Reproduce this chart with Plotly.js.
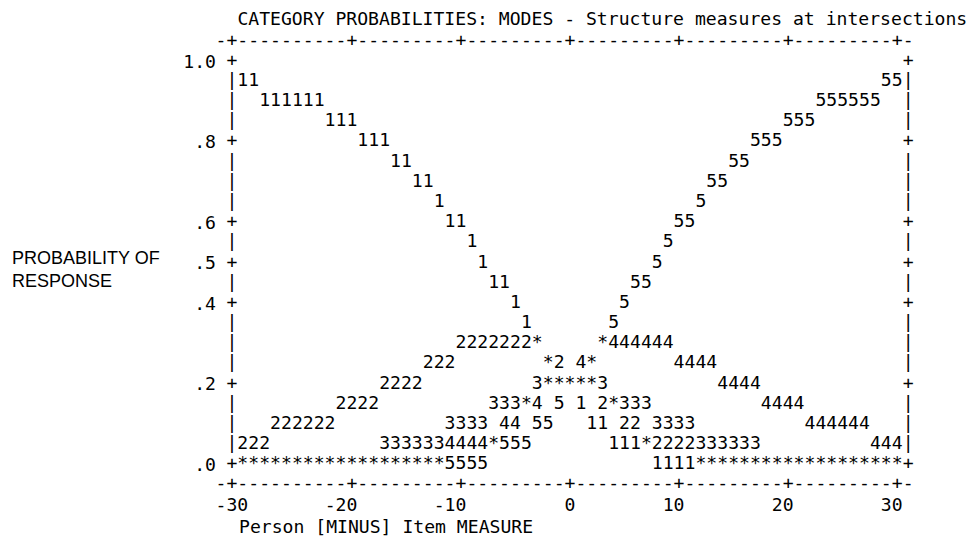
<!DOCTYPE html>
<html>
<head>
<meta charset="utf-8">
<script src="https://cdn.plot.ly/plotly-3.0.1.min.js"></script>
<style>html,body{margin:0;padding:0;background:#fff;}#chart{width:971px;height:542px;}</style>
</head>
<body>
<div id="chart"></div>
<script>
// ---- Data (measure, probability) for each category glyph ----
const categories = ['1', '2', '3', '4', '5'];

const cat1X = [-30,-29,-28,-27,-26,-25,-24,-23,-22,-21,-20,-19,-18,-17,-16,-15,-14,-13,-12,-11,-10,-9,-8,-7,-6,-5,-4,1,2,3,4,5,6,8,9,10,11];
const cat1Y = [0.95,0.95,0.90,0.90,0.90,0.90,0.90,0.90,0.85,0.85,0.85,0.80,0.80,0.80,0.75,0.75,0.70,0.70,0.65,0.60,0.60,0.55,0.50,0.45,0.45,0.40,0.35,0.15,0.10,0.10,0.05,0.05,0.05,0,0,0,0];

const cat2X = [-30,-29,-28,-27,-26,-25,-24,-23,-22,-21,-20,-19,-18,-17,-16,-15,-14,-13,-12,-11,-10,-9,-8,-7,-6,-5,-4,-1,3,5,6,8,9,10,11];
const cat2Y = [0.05,0.05,0.05,0.10,0.10,0.10,0.10,0.10,0.10,0.15,0.15,0.15,0.15,0.20,0.20,0.20,0.20,0.25,0.25,0.25,0.30,0.30,0.30,0.30,0.30,0.30,0.30,0.25,0.15,0.10,0.10,0.05,0.05,0.05,0.05];

const cat3X = [-17,-16,-15,-14,-13,-12,-11,-10,-9,-8,-7,-6,-5,-3,3,5,6,7,8,9,10,11,12,13,14,15,16,17];
const cat3Y = [0.05,0.05,0.05,0.05,0.05,0.05,0.10,0.10,0.10,0.10,0.15,0.15,0.15,0.20,0.20,0.15,0.15,0.15,0.10,0.10,0.10,0.10,0.05,0.05,0.05,0.05,0.05,0.05];

const cat4X = [-11,-10,-9,-8,-6,-5,-3,1,4,5,6,7,8,9,10,11,12,13,14,15,16,17,18,19,20,21,22,23,24,25,26,27,28,29,30];
const cat4Y = [0.05,0.05,0.05,0.05,0.10,0.10,0.15,0.25,0.30,0.30,0.30,0.30,0.30,0.30,0.25,0.25,0.25,0.25,0.20,0.20,0.20,0.20,0.15,0.15,0.15,0.15,0.10,0.10,0.10,0.10,0.10,0.10,0.05,0.05,0.05];

const cat5X = [-11,-10,-9,-8,-6,-5,-4,-3,-2,-1,4,5,6,7,8,9,10,11,12,13,14,15,16,17,18,19,20,21,22,23,24,25,26,27,28,29,30];
const cat5Y = [0,0,0,0,0.05,0.05,0.05,0.10,0.10,0.15,0.35,0.40,0.45,0.45,0.50,0.55,0.60,0.60,0.65,0.70,0.70,0.75,0.75,0.80,0.80,0.80,0.85,0.85,0.85,0.90,0.90,0.90,0.90,0.90,0.90,0.95,0.95];

// cells where two or more categories coincide (printed as '*')
const overlapX = [-30,-29,-28,-27,-26,-25,-24,-23,-22,-21,-20,-19,-18,-17,-16,-15,-14,-13,-12,-7,-4,-3,-2,-2,-1,0,1,2,2,3,4,7,12,13,14,15,16,17,18,19,20,21,22,23,24,25,26,27,28,29,30];
const overlapY = [0,0,0,0,0,0,0,0,0,0,0,0,0,0,0,0,0,0,0,0.05,0.15,0.30,0.20,0.25,0.20,0.20,0.20,0.20,0.25,0.30,0.15,0.05,0,0,0,0,0,0,0,0,0,0,0,0,0,0,0,0,0,0,0];

const xTickVals = [-30, -20, -10, 0, 10, 20, 30];
const xTickText = ['-30', '-20', '-10', '0', '10', '20', '30'];
const yTickVals = [1, 0.8, 0.6, 0.5, 0.4, 0.2, 0];
const yTickText = ['1.0', '.8', '.6', '.5', '.4', '.2', '.0'];

const titleText = 'CATEGORY PROBABILITIES: MODES - Structure measures at intersections';
const xTitleText = 'Person [MINUS] Item MEASURE';
const yTitleText = 'PROBABILITY OF<br>RESPONSE';

// ---- Presentation ----
const MONO = '"DejaVu Sans Mono", "Liberation Mono", monospace';
const FS = 18.1;                  // ~10.9 px per character cell
const INK = '#000000';
const xMin = -31, xMax = 31;      // plot frame borders (measure units)
const rowStep = 0.05;

const seriesX = [cat1X, cat2X, cat3X, cat4X, cat5X];
const seriesY = [cat1Y, cat2Y, cat3Y, cat4Y, cat5Y];

const traces = categories.map((c, i) => ({
  type: 'scatter', mode: 'text', name: 'Category ' + c,
  x: seriesX[i], y: seriesY[i],
  text: seriesX[i].map(() => c),
  textposition: 'middle center',
  textfont: {family: MONO, size: FS, color: INK},
  hoverinfo: 'x+y+name', cliponaxis: false, showlegend: false
}));

traces.push({
  type: 'scatter', mode: 'text', name: 'overlap',
  x: overlapX, y: overlapY,
  text: overlapX.map(() => '*'),
  textposition: 'middle center',
  textfont: {family: MONO, size: FS, color: INK},
  hoverinfo: 'x+y', cliponaxis: false, showlegend: false
});

// ASCII frame: borders and dashed axes
const fx = [], fy = [], ft = [];
const isYTick = p => yTickVals.some(v => Math.abs(v - p) < 1e-9);
for (let i = 0; Math.round(1 / rowStep) >= i; i++) {
  const p = +(1 - i * rowStep).toFixed(2);
  const ch = isYTick(p) ? '+' : '|';
  fx.push(xMin, xMax); fy.push(p, p); ft.push(ch, ch);
}
const tickCols = xTickVals.map(v => (v - xMin <= 1 ? xMin : v));
[1 + rowStep, -rowStep].forEach(p => {
  for (let m = xMin - 1; m <= xMax; m++) {
    fx.push(m); fy.push(p); ft.push(tickCols.includes(m) ? '+' : '-');
  }
});
traces.push({
  type: 'scatter', mode: 'text', x: fx, y: fy, text: ft,
  textposition: 'middle center',
  textfont: {family: MONO, size: FS, color: INK},
  hoverinfo: 'skip', cliponaxis: false, showlegend: false
});

const nb = '\u00a0';
const layout = {
  width: 971, height: 542,
  margin: {l: 221, r: 52, t: 31, b: 47, pad: 0},
  paper_bgcolor: '#ffffff', plot_bgcolor: '#ffffff',
  font: {family: MONO, size: FS, color: INK},
  showlegend: false,
  title: {
    text: titleText, font: {family: MONO, size: FS, color: INK},
    xref: 'paper', x: 0.0235, xanchor: 'left',
    yref: 'container', y: 1 - 18.5 / 542, yanchor: 'middle', pad: {t: 0, b: 0, l: 0, r: 0}
  },
  xaxis: {
    range: [-32, 32], showgrid: false, zeroline: false, showline: false,
    tickmode: 'array', tickvals: xTickVals,
    ticktext: xTickText.map(t => t + nb.repeat(t.length - 1)),
    ticks: '', tickfont: {family: MONO, size: FS, color: INK},
    ticklabelstandoff: -3, fixedrange: true
  },
  yaxis: {
    range: [-0.075, 1.075], showgrid: false, zeroline: false, showline: false,
    tickmode: 'array', tickvals: yTickVals, ticktext: yTickText,
    ticks: '', tickfont: {family: MONO, size: FS, color: INK},
    ticklabelstandoff: 4, fixedrange: true
  },
  annotations: [
    {text: xTitleText, xref: 'x', x: -30.5, xanchor: 'left', yref: 'paper', y: (495 - 526.5) / 464, yanchor: 'middle',
     showarrow: false, font: {family: MONO, size: FS, color: INK}},
    {text: yTitleText, xref: 'paper', x: (10 - 221) / 698, xanchor: 'left', yref: 'y', y: 0.4846, yanchor: 'middle',
     align: 'left', showarrow: false, font: {family: 'Liberation Sans, Arial, sans-serif', size: 18, color: INK}}
  ]
};

Plotly.newPlot('chart', traces, layout, {displayModeBar: false, staticPlot: true});
</script>
</body>
</html>
